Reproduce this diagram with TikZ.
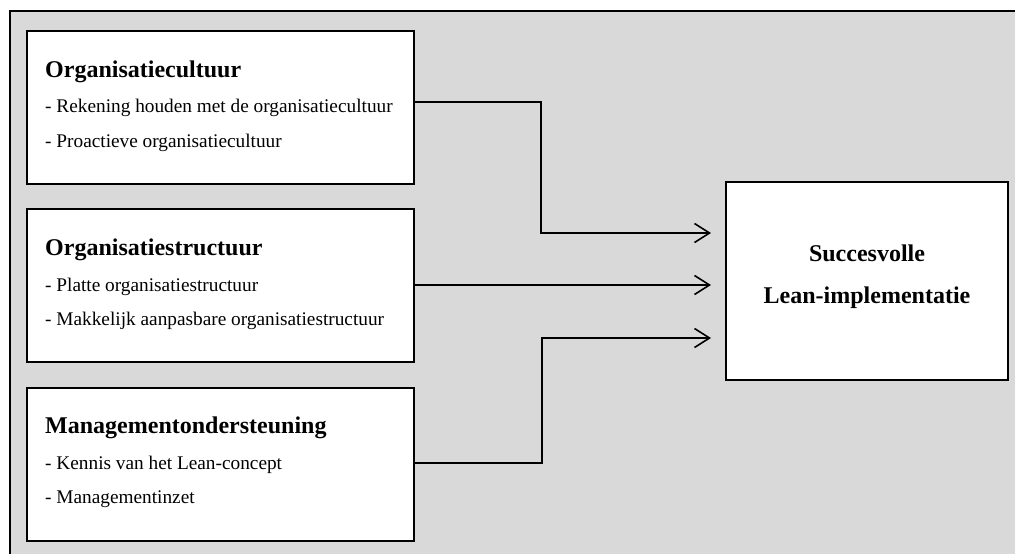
\documentclass[tikz,border=0pt]{standalone}
\usepackage{fontspec}
\setmainfont{Liberation Serif}
\usetikzlibrary{arrows.meta}
\definecolor{panelgray}{HTML}{D9D9D9}
\tikzset{
  factor/.style={draw=black, line width=2pt, fill=white, minimum width=387pt,
    minimum height=153pt, inner sep=0pt},
  goal/.style={draw=black, line width=2pt, fill=white, minimum width=282pt,
    minimum height=198pt, inner sep=0pt},
  heading/.style={anchor=base west, inner sep=0pt,
    font=\fontsize{24}{28}\selectfont\bfseries},
  item/.style={anchor=base west, inner sep=0pt,
    font=\fontsize{19.3}{23}\selectfont},
  flow/.style={draw=black, line width=1.6pt,
    -{Straight Barb[length=15pt, width=19pt, line width=1.6pt]}}
}
\begin{document}
\begin{tikzpicture}[x=1pt, y=-1pt]
  \useasboundingbox (0,0) rectangle (1015,554);
  \clip (0,0) rectangle (1015,554);

  % grey panel, its right and bottom edges run off the page
  \fill[panelgray] (10,11) rectangle (1030,570);
  \draw[line width=2pt] (1030,11) -- (10,11) -- (10,570);

  % factor boxes
  \node[factor] (cult) at (220.5,107) {};
  \node[factor] (struc) at (220.5,285.5) {};
  \node[factor] (mgmt) at (220.5,464.5) {};

  % outcome box
  \node[goal] (lean) at (867,281) {};
  \node[anchor=base, inner sep=0pt, font=\fontsize{24}{28}\selectfont\bfseries]
    (leanA) at (867,261) {Succesvolle};
  \node[anchor=base, inner sep=0pt, font=\fontsize{24}{28}\selectfont\bfseries]
    (leanB) at (867,303) {Lean-implementatie};

  % texts of the factor boxes
  \node[heading] (cultT) at (45,77) {Organisatiecultuur};
  \node[item] (cult1) at (45,112) {- Rekening houden met de organisatiecultuur};
  \node[item] (cult2) at (45,147) {- Proactieve organisatiecultuur};

  \node[heading] (strucT) at (45,255) {Organisatiestructuur};
  \node[item] (struc1) at (45,291) {- Platte organisatiestructuur};
  \node[item] (struc2) at (45,325) {- Makkelijk aanpasbare organisatiestructuur};

  \node[heading] (mgmtT) at (45,433) {Managementondersteuning};
  \node[item] (mgmt1) at (45,469) {- Kennis van het Lean-concept};
  \node[item] (mgmt2) at (45,503) {- Managementinzet};

  % arrow ends just left of the outcome box
  \coordinate (inA) at ([xshift=-14pt]lean.west |- 0,233);
  \coordinate (inB) at ([xshift=-14pt]lean.west |- 0,285);
  \coordinate (inC) at ([xshift=-14pt]lean.west |- 0,338);

  % connectors
  \draw[flow] (cult.east |- 0,102) -| (541,233) -- (inA);
  \draw[flow] (struc.east |- 0,285) -- (inB);
  \draw[flow] (mgmt.east |- 0,463) -| (542,338) -- (inC);
\end{tikzpicture}
\end{document}
